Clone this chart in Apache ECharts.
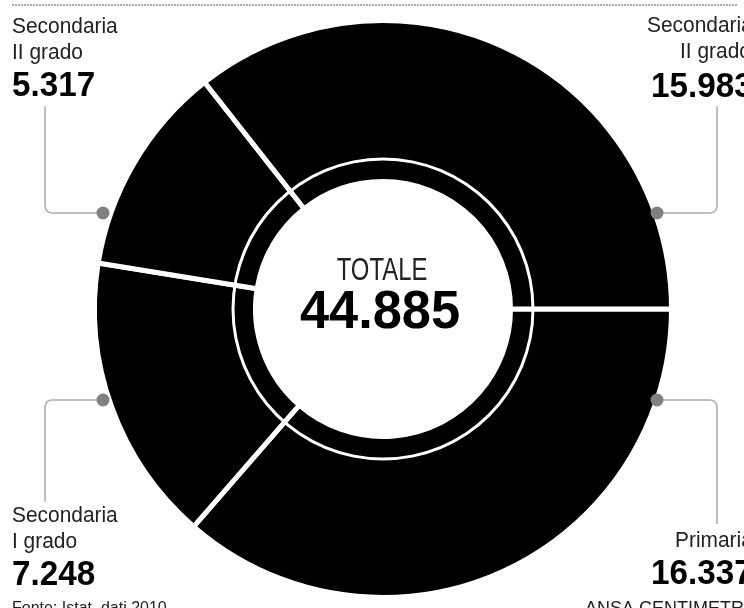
<!DOCTYPE html>
<html><head><meta charset="utf-8">
<script src="https://cdn.jsdelivr.net/npm/echarts@6/dist/echarts.min.js"></script>
<style>html,body{margin:0;padding:0;background:#fff}#c{width:744px;height:608px}</style>
</head><body><div id="c"></div>
<script>
const categories = ['Primaria', 'Secondaria I grado', 'Secondaria II grado', 'Secondaria II grado'];
const values = [16337, 7248, 5317, 15983];
const totalLabel = 'TOTALE';
const sourceText = 'Fonte: Istat, dati 2010';
const creditText = 'ANSA CENTIMETRI';

const FN = '"Liberation Sans","Arial",sans-serif';
const fmt = v => String(v).replace(/\B(?=(\d{3})+(?!\d))/g, '.');
const total = values.reduce((a, b) => a + b, 0);
const CX = 383, CY = 309;

const labelPos = [
  {x: 675, lines: [541], num: 574, nx: 651},
  {x: 12, lines: [516, 542], num: 575, nx: 12},
  {x: 12, lines: [27, 53], num: 86, nx: 12},
  {x: 647, lines: [26, 52], num: 87, nx: 651, x2: 680}
];
const leaders = [
  [[657, 400], [717, 400], [717, 524]],
  [[103, 400], [45, 400], [45, 502]],
  [[103, 213], [45, 213], [45, 106]],
  [[657, 213], [717, 213], [717, 106]]
];
function roundedPts(a, c, b, r) {
  const d1 = [Math.sign(a[0] - c[0]), Math.sign(a[1] - c[1])];
  const d2 = [Math.sign(b[0] - c[0]), Math.sign(b[1] - c[1])];
  const p1 = [c[0] + d1[0] * r, c[1] + d1[1] * r];
  const p2 = [c[0] + d2[0] * r, c[1] + d2[1] * r];
  const pts = [a];
  for (let t = 0; t <= 1.0001; t += 0.125) {
    const u = 1 - t;
    pts.push([u * u * p1[0] + 2 * u * t * c[0] + t * t * p2[0], u * u * p1[1] + 2 * u * t * c[1] + t * t * p2[1]]);
  }
  pts.push(b);
  return pts;
}

const graphic = [];
graphic.push({type: 'line', shape: {x1: 12, y1: 5, x2: 738, y2: 5}, style: {stroke: '#aaa', lineWidth: 2, lineDash: [2, 1]}});
categories.forEach((cat, i) => {
  const p = labelPos[i];
  let parts;
  if (cat === 'Primaria') parts = ['Primaria'];
  else { const k = cat.indexOf(' '); parts = [cat.slice(0, k), cat.slice(k + 1)]; }
  parts.forEach((t, j) => {
    graphic.push({type: 'text', x: (j === 1 && p.x2) ? p.x2 : p.x, y: p.lines[j], scaleX: 0.95,
      style: {text: t, font: '22px ' + FN, fill: '#222', verticalAlign: 'middle', align: 'left'}});
  });
  graphic.push({type: 'text', x: p.nx, y: p.num, scaleX: 0.95,
    style: {text: fmt(values[i]), font: 'bold 35px ' + FN, fill: '#000', verticalAlign: 'middle', align: 'left'}});
  const L = leaders[i];
  graphic.push({type: 'polyline', shape: {points: roundedPts(L[0], L[1], L[2], 8)}, style: {stroke: '#aaa', lineWidth: 1.5, fill: null}});
});
graphic.push({type: 'text', x: 382, y: 271, scaleX: 0.77, style: {text: totalLabel, font: '31px ' + FN, fill: '#222', align: 'center', verticalAlign: 'middle'}});
graphic.push({type: 'text', x: 380, y: 313, scaleX: 0.97, style: {text: fmt(total), font: 'bold 54px ' + FN, fill: '#000', align: 'center', verticalAlign: 'middle'}});
graphic.push({type: 'text', x: 12, y: 609, style: {text: sourceText, font: '16px ' + FN, fill: '#222', verticalAlign: 'middle'}});
graphic.push({type: 'text', x: 585, y: 609, style: {text: creditText, font: '18px ' + FN, fill: '#222', verticalAlign: 'middle'}});
leaders.forEach(L => graphic.push({type: 'circle', shape: {cx: L[0][0], cy: L[0][1], r: 6.5}, style: {fill: '#808080'}, z: 10}));

const chart = echarts.init(document.getElementById('c'), null, {renderer: 'canvas'});
chart.setOption({
  animation: false,
  backgroundColor: '#fff',
  series: [
    {
      type: 'pie', center: [CX, CY], radius: [127.5, 288.5], startAngle: 0, clockwise: true,
      label: {show: false}, labelLine: {show: false}, silent: true,
      itemStyle: {color: '#000', borderColor: '#fff', borderWidth: 5},
      data: categories.map((c, i) => ({name: c + ' ' + i, value: values[i]})),
      z: 1
    },
    {
      type: 'pie', center: [CX, CY], radius: [148.5, 151.5], silent: true,
      label: {show: false}, labelLine: {show: false},
      itemStyle: {color: '#fff'}, data: [{value: total, name: 'ring'}], z: 2
    }
  ],
  graphic: graphic
});
</script></body></html>
